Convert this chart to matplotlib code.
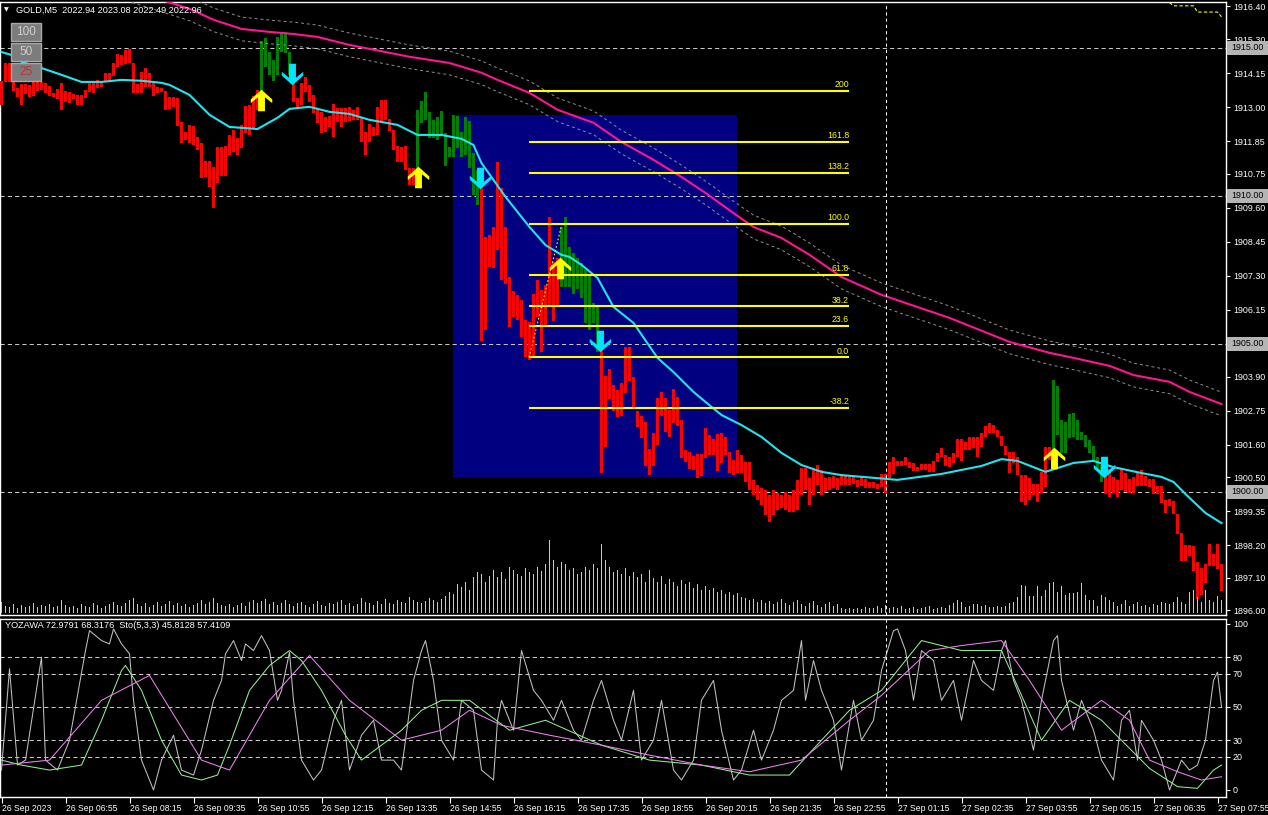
import matplotlib
matplotlib.use("Agg")
import matplotlib.pyplot as plt
from matplotlib.path import Path
from matplotlib.patches import Rectangle
from matplotlib.transforms import blended_transform_factory
import numpy as np

plt.rcParams['font.family'] = ['Liberation Sans', 'DejaVu Sans']

# ---------------- DATA ----------------
bar_top = [
 1913.88,1914.49,1914.49,1913.85,1913.65,1913.78,1913.78,1913.75,1913.85,1913.85,
 1913.85,1913.82,1913.71,1913.48,1913.61,1913.82,1913.55,1913.51,1913.45,1913.41,
 1913.41,1913.58,1913.82,1913.82,1913.92,1913.82,1914.15,1914.15,1914.49,1914.80,
 1914.76,1914.93,1914.96,1914.49,1913.78,1914.19,1914.32,1914.15,1913.85,1913.68,
 1913.65,1913.55,1913.34,1913.34,1913.31,1912.50,1912.16,1912.40,1912.36,1911.99,
 1911.79,1911.18,1911.18,1910.98,1911.65,1911.65,1911.69,1912.06,1912.23,1911.96,
 1912.40,1913.04,1913.07,1913.38,1913.58,1915.23,1915.34,1914.86,1914.59,1915.37,
 1915.51,1915.54,1914.86,1913.85,1913.31,1913.82,1914.02,1913.75,1913.41,1912.97,
 1912.84,1912.67,1912.70,1913.11,1912.97,1912.97,1912.97,1913.01,1912.90,1913.01,
 1912.67,1912.16,1912.43,1912.33,1913.01,1913.24,1913.24,1912.60,1912.23,1911.69,
 1911.65,1911.69,1910.95,1910.95,1912.90,1913.21,1913.51,1912.84,1912.57,1912.67,
 1912.87,1912.13,1911.65,1912.74,1912.70,1912.16,1912.67,1912.53,1911.45,1910.88,
 1910.30,1908.61,1908.68,1908.95,1911.15,1910.27,1908.95,1907.26,1906.79,1906.66,
 1906.49,1905.81,1905.74,1906.69,1907.16,1906.82,1906.99,1909.29,1907.77,1907.90,
 1908.95,1909.29,1908.28,1908.07,1907.90,1907.74,1907.50,1907.33,1906.39,1906.32,
 1904.80,1903.92,1904.15,1903.61,1903.45,1903.68,1904.90,1904.90,1903.89,1902.74,
 1902.57,1902.37,1901.45,1901.99,1903.18,1903.38,1903.18,1902.77,1903.48,1903.21,
 1902.43,1901.42,1901.35,1901.22,1901.28,1901.28,1902.16,1901.93,1901.79,1901.96,
 1901.99,1901.86,1901.35,1901.08,1901.42,1901.25,1901.01,1901.01,1900.41,1900.24,
 1900.14,1900.07,1899.90,1900.07,1899.97,1899.90,1900.00,1899.90,1900.07,1900.41,
 1900.81,1900.81,1900.47,1900.74,1900.91,1900.74,1900.47,1900.51,1900.54,1900.47,
 1900.61,1900.57,1900.54,1900.51,1900.41,1900.51,1900.44,1900.34,1900.34,1900.27,
 1900.61,1900.61,1901.01,1901.18,1901.05,1901.05,1901.18,1901.01,1900.98,1900.85,
 1900.95,1900.95,1900.95,1901.05,1901.32,1901.49,1901.25,1901.18,1901.32,1901.79,
 1901.79,1901.69,1901.86,1901.86,1901.86,1901.99,1902.23,1902.33,1902.26,1902.09,
 1901.89,1901.55,1901.35,1901.35,1901.18,1900.57,1900.57,1900.47,1900.27,1900.27,
 1900.68,1901.52,1901.52,1903.78,1903.58,1902.43,1902.37,1902.64,1902.67,1902.43,
 1902.03,1901.93,1901.76,1901.55,1901.18,1900.91,1900.95,1900.78,1900.51,1900.41,
 1900.78,1900.64,1900.44,1900.51,1900.64,1900.74,1900.54,1900.44,1900.44,1900.20,
 1900.20,1899.73,1899.76,1899.70,1899.26,1898.62,1898.21,1898.21,1898.18,1897.64,
 1897.43,1897.57,1898.24,1897.91,1898.24,1897.57]
bar_bot = [
 1913.07,1913.85,1913.85,1913.55,1913.34,1913.07,1913.45,1913.34,1913.38,1913.55,
 1913.58,1913.48,1913.38,1913.34,1913.28,1912.90,1913.17,1913.14,1913.28,1913.07,
 1913.07,1913.31,1913.51,1913.48,1913.65,1913.68,1913.85,1913.85,1914.05,1914.36,
 1914.42,1914.46,1914.49,1913.48,1913.48,1913.48,1913.68,1913.68,1913.38,1913.48,
 1913.51,1912.90,1912.94,1913.01,1912.36,1911.79,1911.89,1911.79,1911.72,1911.55,
 1910.61,1910.64,1910.30,1909.59,1910.44,1910.67,1910.67,1911.38,1911.49,1911.38,
 1911.62,1912.13,1912.06,1912.30,1912.90,1913.51,1914.36,1914.09,1913.88,1914.09,
 1914.86,1914.83,1914.09,1913.17,1913.01,1913.07,1913.51,1913.17,1912.80,1912.47,
 1912.13,1912.16,1912.33,1911.99,1912.50,1912.33,1912.50,1912.53,1912.57,1912.57,
 1911.82,1911.38,1911.82,1912.03,1912.06,1912.47,1912.57,1912.20,1911.55,1911.15,
 1911.15,1910.88,1910.37,1910.37,1910.30,1912.47,1912.57,1911.96,1911.96,1911.89,
 1912.06,1911.01,1911.32,1911.32,1911.62,1911.32,1911.38,1910.95,1910.03,1909.70,
 1905.10,1905.47,1907.60,1907.57,1908.18,1907.16,1907.03,1905.57,1905.91,1905.81,
 1905.24,1904.56,1904.46,1904.59,1905.91,1904.73,1905.64,1906.32,1905.78,1906.32,
 1906.93,1906.93,1906.93,1906.69,1906.86,1906.55,1905.71,1905.47,1905.71,1904.73,
 1900.64,1901.52,1903.14,1902.74,1902.53,1902.57,1903.35,1903.75,1902.80,1902.20,
 1901.82,1900.88,1900.57,1900.88,1901.59,1902.57,1902.03,1901.86,1902.33,1902.23,
 1901.15,1901.01,1900.78,1900.74,1900.47,1900.54,1901.15,1901.25,1901.25,1900.71,
 1900.98,1901.25,1900.64,1900.57,1900.64,1900.64,1900.34,1900.07,1899.90,1899.73,
 1899.56,1899.22,1898.99,1899.22,1899.40,1899.46,1899.40,1899.33,1899.33,1899.40,
 1899.90,1900.07,1899.56,1899.90,1900.24,1899.90,1900.00,1900.07,1900.14,1900.07,
 1900.24,1900.24,1900.24,1900.27,1900.17,1900.20,1900.14,1900.14,1900.14,1900.10,
 1900.17,1899.97,1900.47,1900.61,1900.88,1900.88,1900.91,1900.81,1900.71,1900.71,
 1900.74,1900.74,1900.68,1900.68,1901.01,1901.18,1900.88,1900.85,1900.98,1901.18,
 1901.05,1901.42,1901.42,1901.49,1901.18,1901.52,1901.86,1901.99,1901.99,1901.86,
 1901.55,1901.25,1900.64,1900.98,1900.57,1899.66,1899.56,1899.73,1899.90,1899.66,
 1899.97,1900.17,1901.08,1900.85,1901.93,1901.32,1901.32,1901.82,1901.86,1901.76,
 1901.76,1901.52,1901.32,1901.08,1900.81,1900.34,1899.93,1899.83,1899.97,1899.83,
 1900.07,1900.00,1899.97,1899.97,1900.20,1900.20,1900.20,1900.17,1899.93,1899.93,
 1899.63,1899.29,1899.53,1899.26,1898.58,1897.67,1897.67,1897.84,1897.33,1896.39,
 1896.52,1896.93,1897.50,1897.50,1897.40,1896.66]
bull_bars = list(range(65, 73)) + list(range(104, 120)) + list(range(140, 150)) + list(range(263, 276))

volume = [
 10,6,5,8,4,7,5,6,9,5,7,6,8,5,6,12,
 7,5,6,4,8,6,5,9,7,4,6,8,10,7,6,9,
 12,14,8,6,9,5,7,10,6,8,11,7,9,6,8,5,
 7,9,12,8,10,14,9,7,6,8,5,7,9,6,10,12,
 9,11,13,8,10,7,9,12,8,6,9,10,7,5,8,11,
 7,6,9,8,10,12,7,9,6,8,14,10,9,7,11,8,
 13,9,8,12,10,9,15,12,10,9,11,14,12,10,13,16,
 20,18,28,25,30,22,35,40,38,30,36,42,35,40,33,45,
 42,38,36,44,40,38,45,41,48,72,52,45,50,48,42,44,
 38,40,45,42,48,44,68,52,45,40,42,38,44,36,40,35,
 38,30,42,34,30,36,28,33,30,26,32,28,30,24,28,22,
 26,22,24,20,22,18,20,17,19,15,14,12,13,10,12,9,
 11,8,10,13,9,7,10,12,8,6,9,11,7,5,8,10,
 6,8,4,3,4,3,4,3,5,4,4,6,4,7,4,5,
 4,6,3,4,5,3,4,5,6,3,4,5,4,7,9,12,
 10,5,6,8,8,6,7,5,5,6,5,6,9,10,15,27,
 26,16,16,26,16,22,29,30,20,26,17,19,19,20,29,17,
 12,12,6,17,15,12,10,6,8,12,6,8,10,6,7,5,
 8,7,10,9,8,10,15,10,8,20,22,15,10,22,12,10,16,12]

ma_fast_bars = [0,2.5,5,10,15,20,25,30,35,40,42,47,52,57,64,69,72,77,82,87,92,99,104,110,115,118,
                120,126,132,136,140,142,145,149,153,158,164,168,173,176,180,185,190,195,200,205,210,
                224,235,245,250,254,261,268,273,278,285,290,293,296,301,305]
ma_fast_vals = [1914.86,1914.76,1914.53,1914.32,1914.09,1913.85,1913.85,1913.92,1913.89,1913.82,1913.75,
                1913.41,1912.74,1912.33,1912.26,1912.64,1912.94,1913.01,1912.84,1912.77,1912.57,1912.40,
                1912.06,1912.06,1911.93,1911.72,1911.11,1909.97,1908.95,1908.34,1908.01,1907.94,1907.67,
                1907.23,1906.25,1905.71,1904.53,1904.05,1903.38,1903.04,1902.60,1902.26,1901.86,1901.32,
                1900.91,1900.68,1900.57,1900.41,1900.61,1900.88,1901.11,1901.05,1900.68,1900.98,1901.05,
                1900.84,1900.64,1900.51,1900.34,1899.93,1899.29,1898.95]

ma_slow_bars = [0,20,40,47,53,60,67,73,79,87,96,102,112,120,124,132,139,148,155,163,170,176,183,188,
                195,202,210,220,237,252,262,268,277,283,292,297,305]
ma_slow_vals = [1918.14,1917.47,1916.62,1916.32,1915.95,1915.64,1915.54,1915.47,1915.37,1915.10,1914.86,
                1914.70,1914.49,1914.16,1913.92,1913.48,1912.91,1912.47,1911.82,1911.22,1910.64,1910.10,
                1909.42,1908.95,1908.58,1908.01,1907.26,1906.66,1905.88,1905.07,1904.70,1904.53,1904.26,
                1903.95,1903.72,1903.38,1902.97]
envelope_dev = 0.40

fib_levels = [200, 161.8, 138.2, 100, 61.8, 38.2, 23.6, 0, -38.2]
fib_labels = ['200', '161.8', '138.2', '100.0', '61.8', '38.2', '23.6', '0.0', '-38.2']
fib_price0, fib_price100 = 1904.55, 1909.05
fib_bar_start, fib_bar_end, fib_bar_anchor = 131.9, 211.9, 140.1

rect_bars = (112.9, 183.9)
rect_prices = (1900.51, 1912.74)

hlines_prices = [1915.0, 1910.0, 1905.0, 1900.0]
cursor_bar = 221.0

up_bars = [64.8, 104.0, 139.6, 263.0]
up_prices = [1913.24, 1910.64, 1907.57, 1901.15]
down_bars = [72.6, 119.6, 149.6, 275.6]
down_prices = [1914.12, 1910.61, 1905.10, 1900.85]

corner_bars = [292, 293, 298, 299, 304, 305]
corner_vals = [1916.53, 1916.42, 1916.42, 1916.21, 1916.21, 1916.05]

price_ticks = [1916.40, 1915.30, 1914.15, 1913.00, 1911.85, 1910.75, 1909.60, 1908.45, 1907.30,
               1906.15, 1903.90, 1902.75, 1901.60, 1900.50, 1899.35, 1898.20, 1897.10, 1896.00]

time_labels = ['26 Sep 2023', '26 Sep 06:55', '26 Sep 08:15', '26 Sep 09:35', '26 Sep 10:55',
               '26 Sep 12:15', '26 Sep 13:35', '26 Sep 14:55', '26 Sep 16:15', '26 Sep 17:35',
               '26 Sep 18:55', '26 Sep 20:15', '26 Sep 21:35', '26 Sep 22:55', '27 Sep 01:15',
               '27 Sep 02:35', '27 Sep 03:55', '27 Sep 05:15', '27 Sep 06:35', '27 Sep 07:55']
time_tick_bars = [16 * k for k in range(len(time_labels))]

yoz_bars = [0,2,4,6,10,11,14,17,21,22,25,27,28,30,32,33,35,38,40,43,45,48,50,53,55,56,58,60,61,63,65,67,
            69,70,72,73,75,78,80,83,85,87,90,93,95,98,100,103,105,106,108,110,113,115,118,120,123,124,
            125,128,130,133,135,138,140,143,145,148,150,153,155,158,160,163,165,168,170,173,175,178,180,
            183,185,188,190,193,195,198,200,201,203,205,208,210,213,215,218,220,223,224,226,228,230,233,
            235,238,240,243,245,248,250,251,253,255,258,260,263,264,265,268,270,273,275,278,280,282,284,
            285,288,290,292,295,297,299,301,302,303,304,305]
yoz_vals = [12,73,15,18,80,18,12,30,84,96,90,88,97,88,82,54,18,0,18,33,12,9,24,54,66,82,90,78,88,84,93,84,
            54,60,83,54,18,6,12,42,54,12,33,42,18,18,12,66,84,90,66,30,18,54,48,12,6,42,
            54,36,84,60,54,42,54,36,30,54,66,42,30,60,18,30,54,12,6,18,54,66,36,
            6,12,36,18,36,54,60,90,54,78,60,42,12,54,30,42,72,96,97,84,54,84,78,
            54,66,42,78,66,60,84,90,66,54,24,54,90,93,66,36,54,36,18,6,42,48,18,
            42,30,18,0,18,12,15,30,48,66,71,50]
stok_bars = [0,5,12,20,25,30,31,35,40,45,50,54,57,62,67,72,75,80,86,90,95,100,105,110,117,127,136,150,
             162,175,187,197,205,212,220,230,240,250,260,267,275,287,294,299,303,305]
stok_vals = [18,15,12,15,42,72,75,60,30,9,6,9,27,60,75,84,78,60,33,18,27,36,48,54,54,36,42,27,
             18,15,9,9,30,48,60,90,84,84,30,54,42,13,2,1,12,15]
stod_bars = [0,12,25,37,50,57,67,77,87,100,110,117,125,137,150,162,175,187,200,212,220,232,240,250,
             257,265,275,282,287,294,300,305]
stod_vals = [15,18,54,69,18,12,54,81,54,30,36,48,39,33,27,21,15,11,18,42,57,84,87,90,
             66,36,54,42,18,11,6,8]
ind_levels = [80, 70, 50, 30, 20]
ind_ticks = [100, 80, 70, 50, 30, 20, 0]

header_text = 'GOLD,M5  2022.94 2023.08 2022.49 2022.96'
ind_header = 'YOZAWA 72.9791 68.3176  Sto(5,3,3) 45.8128 57.4109'
buttons = ['100', '50', '25']

# ---------------- FIGURE ----------------
W, H = 1268, 815
fig = plt.figure(figsize=(W / 100, H / 100), dpi=100)
fig.patch.set_facecolor('black')


def pbox(x0, y0, x1, y1):
    return [x0 / W, 1 - y1 / H, (x1 - x0) / W, (y1 - y0) / H]


ax = fig.add_axes(pbox(0, 2, 1226, 615))
axi = fig.add_axes(pbox(0, 619, 1226, 797))
for a in (ax, axi):
    a.set_facecolor('black')
    for s in a.spines.values():
        s.set_color('white')
        s.set_linewidth(1)
    a.set_xlim(-0.375, 306.125)

ax.set_ylim(1895.845, 1916.55)
axi.set_ylim(-4.22, 103.0)

GRID = '#c8c8c8'
ax.add_patch(Rectangle((rect_bars[0], rect_prices[0]), rect_bars[1] - rect_bars[0],
                       rect_prices[1] - rect_prices[0], facecolor='#000080', edgecolor='none', zorder=1))
for p in hlines_prices:
    ax.axhline(p, color=GRID, lw=0.75, dashes=(4, 3), zorder=2)

# volume
vax = ax.twinx()
vax.set_ylim(-3, 610)
vax.set_xlim(-0.375, 306.125)
vax.axis('off')
xs = np.arange(len(volume))
vax.vlines(xs - 0.25, 0, volume, color='#98ec98', lw=0.7, antialiased=False, zorder=2)

# price bars
n = len(bar_top)
idx = np.arange(n)
top = np.array(bar_top)
bot = np.array(bar_bot)
cols = ['#008000' if i in bull_bars else '#ff0000' for i in range(n)]
ax.bar(idx, top - bot, bottom=bot, width=0.75, color=cols, linewidth=0, antialiased=False, zorder=3)

# moving averages and envelope
ax.plot(ma_fast_bars, ma_fast_vals, color='#1ee6f0', lw=1.5, zorder=5)
ms = np.array(ma_slow_vals)
ax.plot(ma_slow_bars, ms, color='#ff1493', lw=1.5, zorder=5)
ax.plot(ma_slow_bars, ms + envelope_dev, color='#909090', lw=0.7, dashes=(3, 3), zorder=4)
ax.plot(ma_slow_bars, ms - envelope_dev, color='#909090', lw=0.7, dashes=(3, 3), zorder=4)

# fibonacci
for lv, lab in zip(fib_levels, fib_labels):
    p = fib_price0 + (fib_price100 - fib_price0) * lv / 100.0
    ax.plot([fib_bar_start, fib_bar_end], [p, p], color='#ffff00', lw=1.5, zorder=6,
            solid_capstyle='butt')
    ax.text(fib_bar_end, p + 0.06, lab, color='#ffff00', fontsize=6.3, ha='right', va='bottom', zorder=7)
ax.plot([fib_bar_start, fib_bar_anchor], [fib_price0, fib_price100], color='#ffff00', lw=0.8,
        dashes=(1.5, 2), zorder=6)

ax.plot(corner_bars, corner_vals, color='#ffff00', lw=0.8, dashes=(3, 2), zorder=6)

# arrows
up_path = Path([(0, 1), (1, 0.1), (1, -0.25), (0.32, 0.3), (0.32, -1), (-0.32, -1), (-0.32, 0.3),
                (-1, -0.25), (-1, 0.1), (0, 1)],
               [Path.MOVETO] + [Path.LINETO] * 8 + [Path.CLOSEPOLY])
down_path = Path([(x, -y) for x, y in up_path.vertices], up_path.codes)
ax.plot(up_bars, up_prices, linestyle='none', marker=up_path, markersize=15.5, color='#ffff00',
        markeredgewidth=0, zorder=8)
ax.plot(down_bars, down_prices, linestyle='none', marker=down_path, markersize=15.5, color='#00e5ff',
        markeredgewidth=0, zorder=8)

for a in (ax, axi):
    a.axvline(cursor_bar, color='white', lw=0.75, dashes=(3, 3), zorder=9)

# price axis
ax.set_xticks([])
ax.yaxis.tick_right()
ax.set_yticks(price_ticks)
ax.set_yticklabels([f'{v:.2f}' for v in price_ticks])
ax.tick_params(axis='y', colors='white', labelsize=6.4, length=3, width=0.8, pad=2)
bt = blended_transform_factory(ax.transAxes, ax.transData)
for p in hlines_prices:
    ax.add_patch(Rectangle((1.0008, p - 0.23), 0.034, 0.46, transform=bt, facecolor='#b4b4b4',
                           edgecolor='none', clip_on=False, zorder=10))
    ax.text(1.0045, p, f'{p:.2f}', transform=bt, color='black', fontsize=6.4, va='center', ha='left',
            zorder=11, clip_on=False)

# indicator panel
for lv in ind_levels:
    axi.axhline(lv, color=GRID, lw=0.75, dashes=(4, 3), zorder=1)
axi.plot(yoz_bars, yoz_vals, color='#c0c0c0', lw=0.75, zorder=3)
axi.plot(stok_bars, stok_vals, color='#90ee90', lw=0.75, zorder=4)
axi.plot(stod_bars, stod_vals, color='#ee82ee', lw=0.75, zorder=4)
axi.yaxis.tick_right()
axi.set_yticks(ind_ticks)
axi.set_yticklabels([str(v) for v in ind_ticks])
axi.tick_params(axis='y', colors='white', labelsize=6.4, length=3, width=0.8, pad=2)
axi.set_xticks(time_tick_bars)
axi.set_xticklabels(time_labels)
axi.tick_params(axis='x', colors='white', labelsize=6.2, length=4, width=0.8, pad=1)
for lab in axi.get_xticklabels():
    lab.set_ha('left')

# header texts
fig.text(4 / W, 1 - 10 / H, '\u25BC', color='white', fontsize=4.5, va='center', ha='left',
         family=['DejaVu Sans'])
fig.text(16 / W, 1 - 10 / H, header_text, color='white', fontsize=6.6, va='center', ha='left')
fig.text(5 / W, 1 - 626 / H, ind_header, color='white', fontsize=6.6, va='center', ha='left')

# buttons
for k, lab in enumerate(buttons):
    y0 = 23 + 20 * k
    fig.patches.append(Rectangle((11 / W, 1 - (y0 + 18) / H), 30 / W, 18 / H, transform=fig.transFigure,
                                 facecolor='#7c7c7c', edgecolor='#a8a8a8', lw=1, zorder=20))
    fig.text(26 / W, 1 - (y0 + 9) / H, lab, color='#c03030' if lab == '25' else '#cfcfcf',
             fontsize=8.5, ha='center', va='center', zorder=21)

fig.savefig('out.png', dpi=100, facecolor='black')
